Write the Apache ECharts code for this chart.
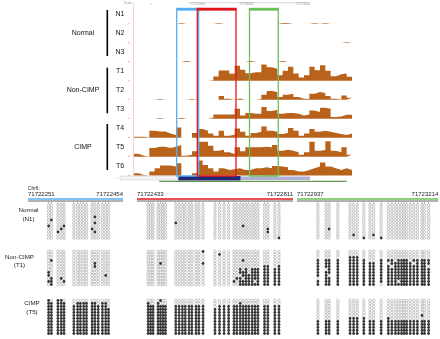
<!DOCTYPE html>
<html>
<head>
<meta charset="utf-8">
<script src="https://cdn.jsdelivr.net/npm/echarts@6/dist/echarts.min.js"></script>
<style>
  html, body { margin: 0; padding: 0; background: #fff; }
  #chart { width: 440px; height: 339px; }
</style>
</head>
<body>
<div id="chart"></div>
<script>
// ---- top panel: signal per sample, 41 windows across the locus ----
const trackNames = ['N1', 'N2', 'N3', 'T1', 'T2', 'T3', 'T4', 'T5', 'T6']
const N1 = [0,0,0,0,0,0,0,0,0.8,0, 0,0,0,0,0,0.8,0,0,0,0, 0,0,0,0,0,0,0,0.8,0.8,0, 0,0,0,0.8,0,0.8,0,0,0,0, 0.8]
const N2 = [0,0,0,0,0,0,0,0,0,0, 0,0,0,0,0,0,0,0,0,0, 0,0,0,0,0,0,0,0,0,0, 0,0,0,0,0,0,0,0,0,0.8, 0]
const N3 = [0,0,0,0,0,0,0,0,0,0.8, 0,0,0,0,0,0,0,0,0,0, 0,0.8,0,0,0,0,0,0.8,0,0, 0,0,0,0,0,0,0,0,0,0, 0]
const T1 = [0,0,0,0,0,0,0,0,0,0, 0,0,0,0,0.7,4.3,10.3,10.3,7,15, 11,7.7,8.7,8.7,16.3,13.7,12,5.7,10,14, 7.3,3.3,5.7,14,10.7,15.7,10,4.7,6.7,7.3, 4]
const T2 = [0,0,0,0,0.7,0,0,0,0,0, 0.7,0,0,0,0,0,3.7,1,0,1.3, 0,0,0,0.7,5,8.7,7.7,2.7,5,6, 2.7,1,0.7,6,7.7,6.7,3.7,1,0.4,4.3, 2]
const T3 = [0,0,0,0,0.7,0,0,0,1,0, 0,0,0,0,1,4.3,4.3,4.3,4.3,10, 3.3,5.7,5,5,11.7,7.7,9,5,5.7,5.7, 5,3.3,4.3,8.3,6.7,11,10,1.7,2.3,4, 4]
const T4 = [1,1,0,7,6.3,6.3,4.3,2.7,10.3,0, 0,4.7,8.7,7,4.3,2,7,2,3,9.3, 6,2,4.7,6,11.3,7,6,3.7,4.7,9.7, 7,2,4.3,8.7,6,7,6,4.7,3.7,2.7, 4.3]
const T5 = [3,1,0,8.7,10,10,8.7,10,11.7,1, 2,5.3,15,15,11,6,7,4.3,2.7,9.3, 5.3,9.3,9.3,9.3,10,9.3,11.7,6,7,6, 4.3,2,4.3,15,6,6.7,15.3,6,4.3,9.3, 2]
const T6 = [2.3,0.5,0,4,7.3,10,10,9,12.3,0, 0,2.3,15,10.7,7.3,4,7.3,5.7,6.3,7.3, 5.7,5.7,7.3,7.3,8.3,7.3,9.7,9,8.3,5.7, 4,4,5.7,7.3,9,13,9,7.3,5.7,7.3, 5.7]
const trackValues = [N1, N2, N3, T1, T2, T3, T4, T5, T6]
const groupNames = ['Normal', 'Non-CIMP', 'CIMP']
const rulerLabels = ['71722500', '71723000', '71723500']

// ---- bottom panel: bisulfite clones in three regions ----
const chrName = 'Chr6:'
const regionStart = [71722251, 71722433, 71722937]
const regionEnd = [71722454, 71722811, 71723214]
const cpgRegion1 = [71722295, 71722301, 71722315, 71722322, 71722328, 71722349, 71722357, 71722363, 71722370, 71722376, 71722388, 71722394, 71722401, 71722410, 71722417, 71722423]
const cpgRegion2 = [71722460, 71722466, 71722472, 71722484, 71722490, 71722496, 71722502, 71722527, 71722535, 71722543, 71722550, 71722559, 71722566, 71722576, 71722583, 71722593, 71722622, 71722633, 71722644, 71722655, 71722668, 71722675, 71722683, 71722690, 71722697, 71722704, 71722712, 71722719, 71722726, 71722742, 71722750, 71722767, 71722777]
const cpgRegion3 = [71722978, 71722994, 71723000, 71723017, 71723041, 71723048, 71723055, 71723068, 71723080, 71723087, 71723102, 71723116, 71723123, 71723130, 71723136, 71723142, 71723147, 71723152, 71723159, 71723166, 71723173, 71723182, 71723187, 71723195]
const sampleNames = ['Normal', 'Non-CIMP', 'CIMP']
const sampleIds = ['(N1)', '(T1)', '(T5)']

// one string per clone: region1 | region2 | region3, 1 = methylated CpG
const clonesN1 = [
  '00 000 00000 000 000 | 000 0000 000000000 0000 000000000 00 00 | 0 00 0 000 0 00 0 0000 000 000 00 0',
  '00 000 00000 000 000 | 000 0000 000000000 0000 000000000 00 00 | 0 00 0 000 0 00 0 0000 000 000 00 0',
  '00 000 00000 000 000 | 000 0000 000000000 0000 000000000 00 00 | 0 00 0 000 0 00 0 0000 000 000 00 0',
  '00 000 00000 000 000 | 000 0000 000000000 0000 000000000 00 00 | 0 00 0 000 0 00 0 0000 000 000 00 0',
  '00 000 00000 010 000 | 000 0000 000000000 0000 000000000 00 00 | 0 00 0 000 0 00 0 0000 000 000 00 0',
  '01 000 00000 000 000 | 000 0000 000000000 0000 000000000 00 00 | 0 00 0 000 0 00 0 0000 000 000 00 0',
  '00 000 00000 010 000 | 000 0000 100000000 0000 000000000 00 00 | 0 00 0 000 0 00 0 0000 000 000 00 0',
  '10 001 00000 000 000 | 000 0000 000000000 0000 000100000 00 00 | 0 00 0 000 0 00 0 0000 000 000 00 0',
  '00 010 00000 100 000 | 000 0000 000000000 0000 000000000 01 00 | 0 01 0 000 0 00 0 0000 000 000 00 0',
  '00 100 00000 010 000 | 000 0000 000000000 0000 000000000 01 00 | 0 00 0 000 0 00 0 0000 000 000 00 0',
  '00 000 00000 000 000 | 000 0000 000000000 0000 000000000 00 00 | 0 00 0 010 0 01 0 0000 000 000 00 0',
  '00 000 00000 000 000 | 000 0000 000000000 0000 000000000 00 01 | 0 00 0 000 1 00 1 0000 000 000 00 0'
]
const clonesT1 = [
  '00 000 00000 000 000 | 000 0000 000000001 0000 000000000 00 00 | 0 00 0 000 0 00 0 0000 000 000 00 0',
  '00 000 00000 000 000 | 000 0000 000000000 0100 000000000 00 00 | 0 00 0 000 0 00 0 0000 000 000 00 0',
  '00 000 00000 000 000 | 000 0000 000000000 0000 000000000 00 00 | 0 00 0 111 0 00 0 0000 000 000 00 0',
  '01 000 00000 000 000 | 000 0000 000000000 0000 000100000 00 00 | 1 11 1 111 1 00 1 1101 111 011 11 1',
  '00 000 00000 010 000 | 000 0100 000000001 0000 000000000 00 00 | 1 11 1 111 1 11 1 0111 111 101 11 1',
  '00 000 00000 010 000 | 000 0000 000000000 0000 000000000 11 01 | 1 11 1 111 1 11 1 1011 111 111 11 0',
  '00 000 00000 000 000 | 000 0000 000000000 0000 001010111 11 11 | 1 01 1 111 1 11 1 1111 111 111 11 1',
  '10 000 00000 000 000 | 000 0000 000000000 0000 001110111 11 11 | 1 11 1 111 1 11 1 1111 111 111 11 1',
  '10 000 00000 000 010 | 000 0000 000000000 0000 000111111 11 11 | 1 10 1 111 1 11 1 1111 111 111 11 1',
  '01 010 00000 000 000 | 000 0000 000000000 0000 011011111 11 11 | 0 11 1 111 1 11 1 1111 111 111 11 1',
  '11 001 00000 000 000 | 000 0000 000000000 0000 101111101 11 11 | 1 11 1 111 1 11 1 1110 111 111 11 1',
  '01 000 00000 000 000 | 000 0000 000000000 0000 001111111 11 11 | 1 11 1 111 1 11 0 1111 111 111 11 1'
]
const clonesT5 = [
  '10 110 00000 000 000 | 000 0100 000000000 0000 000000000 00 00 | 0 00 0 000 0 00 0 0000 000 000 00 0',
  '11 111 01111 110 110 | 100 1000 000000000 0000 001000000 00 00 | 0 00 0 000 0 00 0 0000 000 000 00 0',
  '11 111 11111 111 110 | 111 1111 111111111 0111 111111111 11 11 | 0 00 0 000 0 00 0 0000 000 000 00 0',
  '11 111 11111 111 111 | 111 1111 111111111 1111 111111111 11 11 | 0 00 0 000 0 00 0 0000 000 000 00 0',
  '11 111 11111 111 111 | 111 1111 111111111 1111 111111111 11 11 | 0 00 0 000 0 00 0 0000 000 000 00 0',
  '11 111 11111 111 111 | 111 1111 111111111 1111 111111111 11 11 | 0 00 0 000 0 00 0 0000 000 000 10 0',
  '11 111 11111 111 111 | 111 1111 111111111 1111 111111111 11 11 | 0 00 0 111 1 00 0 1000 000 000 00 0',
  '11 111 11111 111 111 | 111 1111 111111111 1111 111111111 11 11 | 1 11 1 111 1 11 1 1111 111 111 11 1',
  '11 111 11111 111 111 | 111 1111 111111111 1111 111111111 11 11 | 1 11 1 111 1 11 1 1111 111 111 11 1',
  '11 111 11111 111 111 | 111 1111 111111111 1111 111111111 11 11 | 1 11 1 111 1 11 1 1111 111 111 11 1',
  '11 111 11111 111 111 | 111 1111 111111111 1111 111111111 11 11 | 1 11 1 111 1 11 1 1111 111 111 11 1',
  '11 111 11111 111 111 | 111 1111 111111111 1111 111111111 11 11 | 1 11 1 111 1 11 1 1111 111 111 11 1'
]

// ---- layout / styles ----
const FONT = '"Liberation Sans", Arial, sans-serif'
const BROWN = '#b8621c'
const trackLeft = 133.3
const trackWidth = 218.7
const trackH = 19
const baseline0 = 24
const trackStep = 18.95
const regionPx = [[28, 123], [137, 293], [297, 438.3]]
const regionColor = ['#5aaef0', '#e3161c', '#6cc05a']
const sampleTop = [203.5, 250, 299]
const sampleH = 36
const sampleLabelX = [28.5, 19.5, 32]
const sampleLabelY = [210.5, 257, 303.5]

const chart = echarts.init(document.getElementById('chart'), null, { renderer: 'canvas' })

const grid = []
const xAxis = []
const yAxis = []
const series = []
const graphic = []

const txt = (text, x, y, size, align, color, weight) => ({
  type: 'text', z: 30, silent: true,
  style: {
    text, x, y, fill: color || '#111',
    font: (weight || 'normal') + ' ' + size + 'px ' + FONT,
    align: align || 'center', verticalAlign: 'middle',
    textAlign: align || 'center', textVerticalAlign: 'middle'
  }
})
const line = (x1, y1, x2, y2, color, w, z) => ({
  type: 'line', z: z || 20, silent: true,
  shape: { x1, y1, x2, y2 }, style: { stroke: color, lineWidth: w }
})
const rect = (x, y, width, height, style, z) => ({
  type: 'rect', z: z || 20, silent: true, shape: { x, y, width, height }, style
})

// 上半部分：每个样本一条直方轨道（每个窗口左右两个顶点，形成阶梯）
trackValues.forEach((vals, i) => {
  const base = baseline0 + trackStep * i
  grid.push({ left: trackLeft, top: base - trackH, width: trackWidth, height: trackH })
  xAxis.push({ type: 'value', gridIndex: i, min: 0, max: vals.length, show: false })
  yAxis.push({ type: 'value', gridIndex: i, min: 0, max: trackH, show: false })
  const pts = []
  vals.forEach((v, k) => { pts.push([k, v]); pts.push([k + 1, v]) })
  series.push({
    type: 'line', xAxisIndex: i, yAxisIndex: i, data: pts,
    symbol: 'none', silent: true, z: 2,
    lineStyle: { opacity: 0 },
    areaStyle: { color: BROWN, opacity: 1 }
  })
  graphic.push(txt(trackNames[i], 120, base - 9.5, 7, 'center', '#111'))
  graphic.push({
    type: 'polygon', z: 5, silent: true,
    shape: { points: [[127.8, base + 0.3], [130.2, base + 0.3], [129, base - 1.6]] },
    style: { fill: '#f3c08a' }
  })
})

// group labels and brackets
const groupMid = [33.3, 90.3, 147]
const bracket = [[10, 56], [67.7, 113.3], [124, 170]]
groupNames.forEach((g, i) => {
  graphic.push(txt(g, 83, groupMid[i], 7, 'center', '#111'))
  graphic.push(line(107.3, bracket[i][0], 107.3, bracket[i][1], '#000', 1.6))
})

// top ruler, pink guide line
graphic.push(line(133.6, 3, 133.6, 177, '#f6cccc', 1, 3))
graphic.push(line(188, 2.7, 310, 2.7, '#c8c8c8', 0.7))
graphic.push(line(150.5, 3, 150.5, 5, '#aaa', 0.6))
graphic.push(txt('Scale', 128, 3, 3, 'center', '#999'))
const rulerX = [205, 253.5, 310]
rulerLabels.forEach((l, i) => graphic.push(txt(l, rulerX[i], 4.3, 3.2, 'right', '#999')))

// highlighted regions (boxes over the tracks)
const boxX = [[176.7, 198.7], [197.3, 236], [249.5, 278.3]]
boxX.forEach((b, i) => {
  graphic.push(rect(b[0], 9.5, b[1] - b[0], 166.5, { fill: 'none', stroke: regionColor[i], lineWidth: 1.3 }, 25 + (i === 1 ? 1 : 0)))
  graphic.push(rect(b[0] - 0.6, 7.8, b[1] - b[0] + 1.2, 2.8, { fill: regionColor[i] }, 25))
})

// gene model track
graphic.push(rect(120, 176, 58, 4, { fill: '#f2f2f6', stroke: '#c4c4cc', lineWidth: 0.5 }, 22))
graphic.push(rect(178.3, 176, 62.4, 4.6, { fill: '#202a78' }, 22))
graphic.push(rect(240.7, 176.6, 69.3, 3.5, { fill: '#aeb0d8' }, 22))
graphic.push(line(159.3, 181.3, 346.7, 181.3, '#3f7a2a', 1, 22))
graphic.push(txt('::::', 116, 178, 3, 'center', '#aaa'))

// ---- bottom panel ----
const cpgLists = [cpgRegion1, cpgRegion2, cpgRegion3]
const clones = [clonesN1, clonesT1, clonesT5]
const parsed = clones.map(rows => rows.map(r => r.split('|').map(s => s.replace(/\s/g, ''))))

graphic.push(txt(chrName, 28, 188.5, 4.8, 'left', '#222'))

cpgLists.forEach((cpg, r) => {
  const [x0, x1] = regionPx[r]
  // header ticks at each CpG site
  const gi = grid.length
  grid.push({ left: x0, top: 201.6, width: x1 - x0, height: 2.4 })
  xAxis.push({ type: 'value', gridIndex: gi, min: regionStart[r], max: regionEnd[r], show: false })
  yAxis.push({ type: 'value', gridIndex: gi, min: 0, max: 1, show: false })
  series.push({
    type: 'scatter', xAxisIndex: gi, yAxisIndex: gi, silent: true,
    symbol: 'rect', symbolSize: [0.6, 2.4],
    itemStyle: { color: '#777' },
    data: cpg.map(p => [p, 0.5])
  })
  graphic.push(line(x0, 199, x1, 199, regionColor[r], 1.6))
  graphic.push(line(x0, 201, x1, 201, '#555', 0.9))
  graphic.push(txt(String(regionStart[r]), x0, 194.3, 6, 'left', '#222'))
  graphic.push(txt(String(regionEnd[r]), x1, 194.3, 6, 'right', '#222'))

  // clones for each sample
  parsed.forEach((rows, s) => {
    const g = grid.length
    grid.push({ left: x0, top: sampleTop[s], width: x1 - x0, height: sampleH })
    xAxis.push({ type: 'value', gridIndex: g, min: regionStart[r], max: regionEnd[r], show: false })
    yAxis.push({ type: 'category', gridIndex: g, data: rows.map((_, k) => k), inverse: true, show: false })
    const open = []
    const filled = []
    rows.forEach((row, k) => {
      const cells = row[r]
      cpg.forEach((p, c) => {
        if (cells[c] === '1') filled.push([p, k])
        else open.push([p, k])
      })
    })
    series.push({
      type: 'scatter', xAxisIndex: g, yAxisIndex: g, silent: true,
      symbol: 'circle', symbolSize: 2.6, data: open,
      itemStyle: { color: '#fff', borderColor: '#8f8f8f', borderWidth: 0.6 }
    })
    series.push({
      type: 'scatter', xAxisIndex: g, yAxisIndex: g, silent: true,
      symbol: 'circle', symbolSize: 2.8, data: filled,
      itemStyle: { color: '#000' }
    })
  })
})

sampleNames.forEach((n, s) => {
  graphic.push(txt(n, sampleLabelX[s], sampleLabelY[s], 6.2, 'center', '#222'))
  graphic.push(txt(sampleIds[s], sampleLabelX[s], sampleLabelY[s] + 8.3, 6.2, 'center', '#222'))
})

chart.setOption({
  animation: false,
  backgroundColor: '#fff',
  grid, xAxis, yAxis, series,
  graphic: { elements: graphic }
})
</script>
</body>
</html>
